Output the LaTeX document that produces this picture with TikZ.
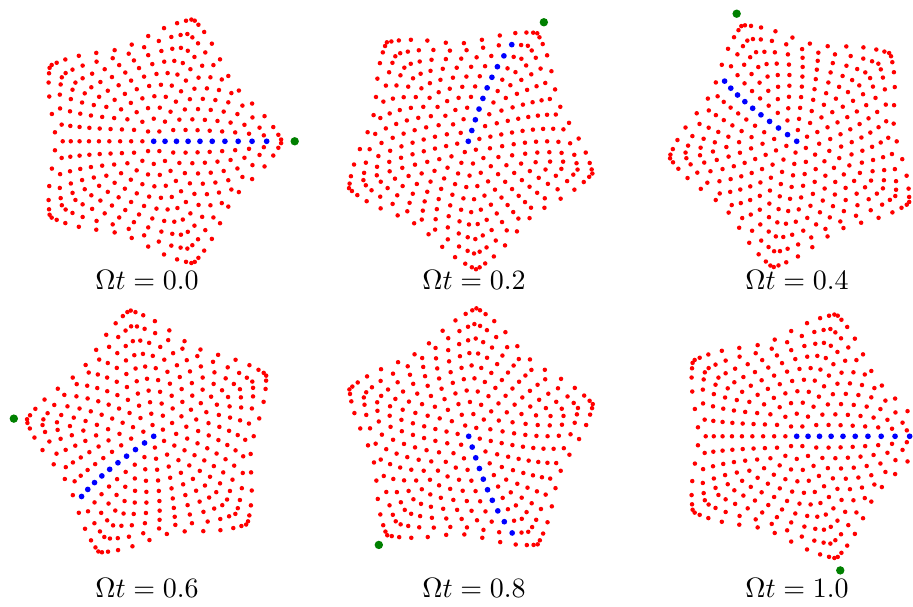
\documentclass[tikz,border=0pt]{standalone}
\definecolor{dotred}{RGB}{255,0,0}
\definecolor{dotblue}{RGB}{0,0,255}
\definecolor{dotgreen}{RGB}{0,128,0}
\tikzset{
  reddot/.style={fill=dotred},
  bluedot/.style={fill=dotblue},
  greendot/.style={fill=dotgreen},
  paneltitle/.style={anchor=base,scale=2.8,inner sep=0pt}
}
% radius of a point: ring parameter \myRho, angle \myTh, boundary angle \myP
\newcommand\pentrad{%
  \pgfmathsetmacro\myPsi{Mod(\myTh-\myP+36,72)-36}%
  \pgfmathsetmacro\myH{cos(36)/cos(36-abs(\myPsi))}%
  \pgfmathsetmacro\myQ{0.6*(\myH-0.9045)/0.0955+0.4*cos(5*\myPsi)}%
  \pgfmathsetmacro\myR{113.3*\myRho*(1+\myC*\myQ)}%
}
% #1 cx, #2 cy, #3 t
\newcommand\vortexpanel[3]{%
  \pgfmathsetmacro\myL{360*#3}%
  \pgfmathsetmacro\myP{288*#3}%
  \foreach \k in {1,...,10}{%
    \pgfmathtruncatemacro\myN{6*\k}%
    \pgfmathtruncatemacro\myNm{\myN-1}%
    \pgfmathsetmacro\myOff{\k==10 ? 180/\myN : 0}%
    \pgfmathsetmacro\myStep{360/\myN}%
    \pgfmathsetmacro\myRho{\k/10}%
    \pgfmathsetmacro\myTw{8.5*\myRho*\myRho*sqrt(\myRho)}%
    \pgfmathsetmacro\myC{0.133*\myRho*\myRho}%
    \foreach \j in {0,...,\myNm}{%
      \pgfmathsetmacro\myA{\myStep*\j+\myOff+\myL}%
      \pgfmathsetmacro\myTh{\myA-\myTw*sin(5*(\myA-\myP))}%
      \pentrad
      \pgfmathtruncatemacro\myBlue{(\j==0 && \k<10) ? 1 : 0}%
      \ifnum\myBlue=0
        \fill[reddot] ({#1+\myR*cos(\myTh)},{#2+\myR*sin(\myTh)}) circle (2.25);
      \fi
    }%
  }%
  \foreach \k in {1,...,9}{%
    \pgfmathsetmacro\myRho{\k/10}%
    \pgfmathsetmacro\myTw{8.5*\myRho*\myRho*sqrt(\myRho)}%
    \pgfmathsetmacro\myC{0.133*\myRho*\myRho}%
    \pgfmathsetmacro\myA{\myL}%
    \pgfmathsetmacro\myTh{\myA-\myTw*sin(5*(\myA-\myP))}%
    \pentrad
    \fill[bluedot] ({#1+\myR*cos(\myTh)},{#2+\myR*sin(\myTh)}) circle (2.85);
  }%
  \fill[bluedot] (#1,#2) circle (2.85);
  \fill[greendot] ({#1+141*cos(\myP)},{#2+141*sin(\myP)}) circle (4.2);
}
\begin{document}
\begin{tikzpicture}[x=1pt,y=1pt]
  \useasboundingbox (0,0) rectangle (913,607);
  \vortexpanel{153.7}{465.7}{0.0}
  \vortexpanel{468.3}{465.7}{0.2}
  \vortexpanel{796.7}{465.7}{0.4}
  \vortexpanel{153.7}{170.7}{0.6}
  \vortexpanel{468.7}{170.7}{0.8}
  \vortexpanel{796.7}{170.7}{1.0}
  \node[paneltitle] (l1) at (147,317) {$\Omega t = 0.0$};
  \node[paneltitle] (l2) at (474,317) {$\Omega t = 0.2$};
  \node[paneltitle] (l3) at (797,317) {$\Omega t = 0.4$};
  \node[paneltitle] (l4) at (147,9) {$\Omega t = 0.6$};
  \node[paneltitle] (l5) at (474,9) {$\Omega t = 0.8$};
  \node[paneltitle] (l6) at (797,9) {$\Omega t = 1.0$};
\end{tikzpicture}
\end{document}
